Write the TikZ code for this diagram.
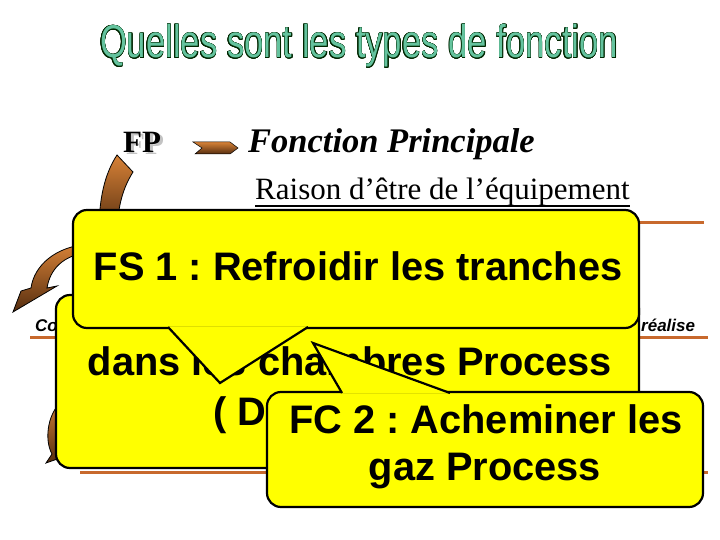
\documentclass[tikz,border=0pt]{standalone}
\usepackage{fontspec}
\setmainfont{Liberation Serif}
\newfontfamily\arial{Liberation Sans}
\usepackage{contour}
\contourlength{0.6pt}
\frenchspacing

\definecolor{jaune}{RGB}{255,255,0}
\definecolor{trait}{RGB}{200,105,45}
\definecolor{cuivre}{RGB}{215,130,55}
\definecolor{brun}{RGB}{85,45,15}
\definecolor{titre}{RGB}{100,195,158}
\definecolor{ombre}{RGB}{195,195,195}

\tikzset{
  bulle/.style={draw=black, line width=2.2pt, fill=jaune, rounded corners=14pt},
  gras/.style={font=\arial\bfseries\fontsize{39.8}{47}\selectfont, anchor=base},
  ligne/.style={draw=trait, line width=3pt},
  fleche/.style={draw=black, line width=0.8pt, top color=cuivre, bottom color=brun},
}

\begin{document}
\begin{tikzpicture}[x=1pt, y=-1pt, every node/.style={inner sep=0pt}]
    \useasboundingbox (0,0) rectangle (720,540);

    % titre
    \node[anchor=base] (titre) at (359,58) {\scalebox{0.753}[1]{\arial\fontsize{46}{50}\selectfont\color{titre}\contour{black!85!green}{Quelles sont les types de fonction}}};

    % lignes orange
    \draw[ligne] (80,223) -- (704,223);
    \draw[ligne] (30,337) -- (708,337);
    \draw[ligne] (80,472) -- (708,472);

    % FP
    \node[anchor=base west, font=\bfseries\fontsize{31}{31}\selectfont] (fp) at (123,153) {\rlap{\hspace{3pt}\raisebox{-2pt}{\color{ombre}FP}}FP};
    \draw[fleche, line width=0.5pt] (193,142) -- (230,142) -- (238,148) -- (230,154) -- (195,154) -- (202,148) -- cycle;
    \node[anchor=base west, font=\bfseries\itshape\fontsize{34.5}{34}\selectfont] (principale) at (248,153) {Fonction Principale};
    \node[anchor=base west, font=\fontsize{31}{31}\selectfont] (raison) at (255,200) {Raison d’être de l’équipement};
    \draw[line width=1.2pt] ([yshift=-6pt]raison.base west) -- ([yshift=-6pt]raison.base east);

    % fleches
    \draw[fleche] (117,155) -- (133,172) .. controls (123,188) and (118,205) .. (117,232) -- (99,232) .. controls (99,200) and (104,175) .. (117,155) -- cycle;
    \draw[fleche] (90,244) .. controls (55,246) and (34,266) .. (31,288) -- (21,291) -- (13,312) -- (57,286) -- (47,288) .. controls (50,270) and (62,255) .. (90,252) -- cycle;
    \draw[fleche] (66,398) .. controls (47,410) and (44,440) .. (52,454) -- (46,463) -- (63,457) .. controls (55,440) and (57,415) .. (70,402) -- cycle;

    \node[anchor=base west, font=\arial\bfseries\itshape\fontsize{17}{17}\selectfont] (co) at (35,331) {Co};
    \node[anchor=base west, font=\arial\bfseries\itshape\fontsize{17}{17}\selectfont] (realise) at (641,331) {réalise};

    % bulles
    \node[bulle, minimum width=583pt, minimum height=173pt] (fs2) at (347.5,381.5) {};
    \node[gras] (dans) at (350,375) {dans les chambres Process};
    \node[gras, anchor=base west] (debit) at (213,425) {( D};

    \node[bulle, minimum width=566pt, minimum height=118pt] (fs1) at (356,269) {};
    \coordinate (fs1pointe) at (220,383);
    \filldraw[fill=jaune, line width=2.2pt] (168,327) -- (fs1pointe) -- (308,327);
    \node[gras] (fs1texte) at (358,280) {FS 1 : Refroidir les tranches};

    \node[bulle, minimum width=436pt, minimum height=115pt] (fc2) at (485,449.5) {};
    \coordinate (fc2pointe) at (313,343);
    \filldraw[fill=jaune, line width=2.2pt] (342,393) -- (fc2pointe) -- (450,393);
    \node[gras] (fc2texte) at (486,433) {FC 2 : Acheminer les};
    \node[gras] (gaz) at (485,480) {gaz Process};
\end{tikzpicture}
\end{document}
